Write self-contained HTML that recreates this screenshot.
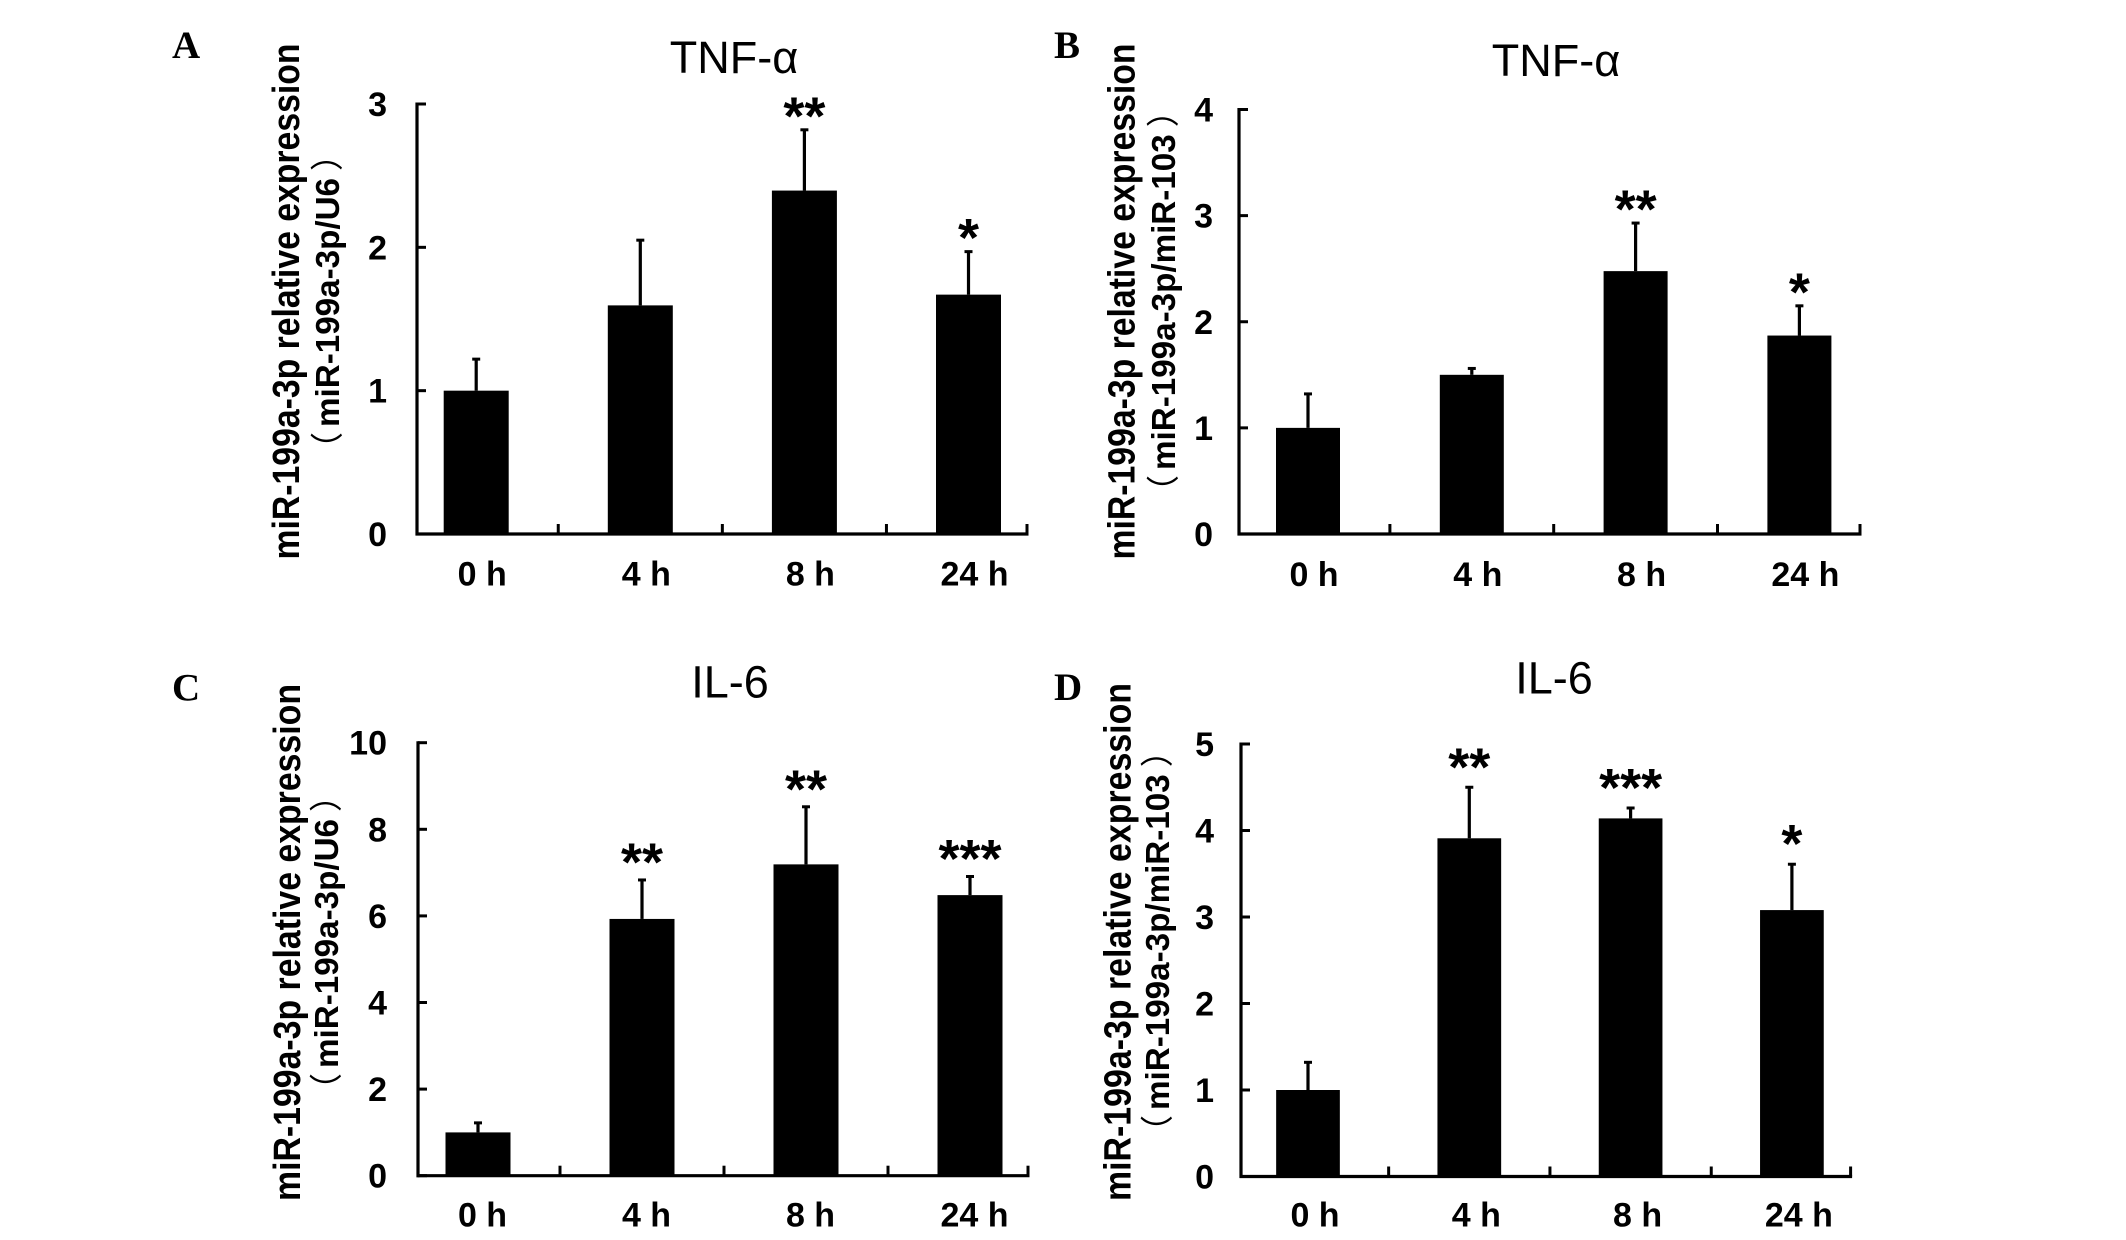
<!DOCTYPE html>
<html lang="en">
<head>
<meta charset="utf-8">
<title>miR-199a-3p relative expression</title>
<style>
  html, body { margin: 0; padding: 0; background: #fff; }
  svg { display: block; }
  text { fill: #000; }
  .ytitle1 { font: bold 38px "Liberation Sans", "Noto Sans CJK SC", sans-serif; }
  .ytitle2 { font: bold 33.2px "Liberation Sans", "Noto Sans CJK SC", sans-serif; }
  .paren { font: normal 33px "Noto Sans CJK SC", "Liberation Sans", sans-serif; }
  .title { font: 45px "Liberation Sans", "DejaVu Sans", sans-serif; text-anchor: middle; }
  .letter { font: bold 39px "Liberation Serif", serif; }
  .tick { font: bold 34px "Liberation Sans", sans-serif; }
  .star { font: bold 54px "Liberation Sans", sans-serif; text-anchor: middle; }
</style>
</head>
<body>
<svg id="figure" xmlns="http://www.w3.org/2000/svg" width="2126" height="1240" viewBox="0 0 2126 1240">
  <rect width="2126" height="1240" fill="#fff"/>

  <g>
    <text class="letter" x="172" y="58">A</text>
    <text class="title" x="734" y="73">TNF-α</text>
    <text class="ytitle1" transform="translate(299 559.5) rotate(-90)" textLength="516" lengthAdjust="spacingAndGlyphs">miR-199a-3p relative expression</text>
    <text class="ytitle2" transform="translate(339 465) rotate(-90)"><tspan class="paren">（</tspan><tspan dx="5">miR-199a-3p/U6</tspan><tspan class="paren" dx="7">）</tspan></text>
  </g>
  <g>
    <text class="letter" x="1054" y="58">B</text>
    <text class="title" x="1556" y="76">TNF-α</text>
    <text class="ytitle1" transform="translate(1134.5 559.5) rotate(-90)" textLength="516" lengthAdjust="spacingAndGlyphs">miR-199a-3p relative expression</text>
    <text class="ytitle2" transform="translate(1175 508) rotate(-90)"><tspan class="paren">（</tspan><tspan dx="5">miR-199a-3p/miR-103</tspan><tspan class="paren" dx="7">）</tspan></text>
  </g>
  <g>
    <text class="letter" x="172" y="700.5">C</text>
    <text class="title" x="730" y="697.5">IL-6</text>
    <text class="ytitle1" transform="translate(300 1201) rotate(-90)" textLength="517" lengthAdjust="spacingAndGlyphs">miR-199a-3p relative expression</text>
    <text class="ytitle2" transform="translate(338 1106) rotate(-90)"><tspan class="paren">（</tspan><tspan dx="5">miR-199a-3p/U6</tspan><tspan class="paren" dx="7">）</tspan></text>
  </g>
  <g>
    <text class="letter" x="1054" y="700">D</text>
    <text class="title" x="1554" y="693.5">IL-6</text>
    <text class="ytitle1" transform="translate(1130.5 1201) rotate(-90)" textLength="518" lengthAdjust="spacingAndGlyphs">miR-199a-3p relative expression</text>
    <text class="ytitle2" transform="translate(1169 1148) rotate(-90)"><tspan class="paren">（</tspan><tspan dx="5">miR-199a-3p/miR-103</tspan><tspan class="paren" dx="7">）</tspan></text>
  </g>
</svg>

<script>
const categories = ['0 h', '4 h', '8 h', '24 h'];

const panelAValues = [1, 1.595, 2.396, 1.67];
const panelAErrors = [0.22, 0.455, 0.424, 0.30];
const panelAStars = ['', '', '**', '*'];
const panelATicks = [0, 1, 2, 3];

const panelBValues = [1, 1.5, 2.477, 1.87];
const panelBErrors = [0.32, 0.06, 0.453, 0.28];
const panelBStars = ['', '', '**', '*'];
const panelBTicks = [0, 1, 2, 3, 4];

const panelCValues = [1, 5.93, 7.19, 6.48];
const panelCErrors = [0.22, 0.90, 1.33, 0.43];
const panelCStars = ['', '**', '**', '***'];
const panelCTicks = [0, 2, 4, 6, 8, 10];

const panelDValues = [1, 3.91, 4.14, 3.08];
const panelDErrors = [0.32, 0.59, 0.12, 0.53];
const panelDStars = ['', '**', '***', '*'];
const panelDTicks = [0, 1, 2, 3, 4, 5];

const panels = [
  { values: panelAValues, errors: panelAErrors, stars: panelAStars, ticks: panelATicks,
    left: 417, right: 1027, top: 104, bottom: 534, firstCenter: 476.2, step: 164.1, barWidth: 65,
    labelShift: 6, labelBaseline: 585.5, tickRight: 387, starGap: 13.5 },
  { values: panelBValues, errors: panelBErrors, stars: panelBStars, ticks: panelBTicks,
    left: 1239, right: 1860, top: 109.5, bottom: 534, firstCenter: 1308, step: 163.8, barWidth: 64,
    labelShift: 6, labelBaseline: 586, tickRight: 1213, starGap: 13.5 },
  { values: panelCValues, errors: panelCErrors, stars: panelCStars, ticks: panelCTicks,
    left: 418, right: 1028, top: 742.7, bottom: 1175.7, firstCenter: 478, step: 164, barWidth: 65,
    labelShift: 4.5, labelBaseline: 1226.5, tickRight: 387, starGap: 17.5 },
  { values: panelDValues, errors: panelDErrors, stars: panelDStars, ticks: panelDTicks,
    left: 1241, right: 1850.6, top: 744, bottom: 1176.5, firstCenter: 1308, step: 161.3, barWidth: 63.7,
    labelShift: 7, labelBaseline: 1226.5, tickRight: 1214, starGap: 20 }
];

const SVG_NS = 'http://www.w3.org/2000/svg';
const figure = document.getElementById('figure');

function svgEl(tag, parent, attrs) {
  const el = document.createElementNS(SVG_NS, tag);
  for (const key in attrs) el.setAttribute(key, attrs[key]);
  parent.appendChild(el);
  return el;
}

function drawPanel(p) {
  const maxTick = p.ticks[p.ticks.length - 1];
  const yScale = v => p.bottom - (v / maxTick) * (p.bottom - p.top);
  const xScale = i => p.firstCenter + i * p.step;

  const group = svgEl('g', figure, {});
  
  

  categories.forEach((category, i) => {
    const cx = xScale(i);
    const valueY = yScale(p.values[i]);
    const errorY = yScale(p.values[i] + p.errors[i]);

    const stem = svgEl('line', group, { x1: cx, x2: cx, y1: valueY, y2: errorY, stroke: '#000', 'stroke-width': 3.2 });
    
    

    const cap = svgEl('line', group, { x1: cx - 4, x2: cx + 4, y1: errorY, y2: errorY, stroke: '#000', 'stroke-width': 3 });
    
    

    const bar = svgEl('rect', group, { x: cx - p.barWidth / 2, y: valueY, width: p.barWidth, height: p.bottom - valueY, fill: '#000' });
    
    

    const label = svgEl('text', group, { x: cx + p.labelShift, y: p.labelBaseline, class: 'tick', 'text-anchor': 'middle' });
    label.textContent = category;
    
    

    if (p.stars[i]) {
      const star = svgEl('text', group, { x: cx, y: errorY - p.starGap + 18, class: 'star' });
      star.textContent = p.stars[i];
      
      
    }

    const tickX = i < categories.length - 1 ? cx + p.step / 2 : p.right;
    const xTick = svgEl('line', group, { x1: tickX, x2: tickX, y1: p.bottom, y2: p.bottom - 10, stroke: '#000', 'stroke-width': 3 });
    
    
  });

  const yAxis = svgEl('line', group, { x1: p.left, x2: p.left, y1: p.top - 1.5, y2: p.bottom + 1.5, stroke: '#000', 'stroke-width': 3.2 });
  
  

  const xAxis = svgEl('line', group, { x1: p.left - 1.5, x2: p.right + 1.5, y1: p.bottom, y2: p.bottom, stroke: '#000', 'stroke-width': 3.2 });
  
  

  p.ticks.forEach(tick => {
    const y = yScale(tick);

    const mark = svgEl('line', group, { x1: p.left, x2: p.left + 9, y1: y, y2: y, stroke: '#000', 'stroke-width': 3 });
    
    

    const label = svgEl('text', group, { x: p.tickRight, y: y + 12, class: 'tick', 'text-anchor': 'end' });
    label.textContent = tick;
    
    
  });
}

panels.forEach(drawPanel);
</script>
</body>
</html>
